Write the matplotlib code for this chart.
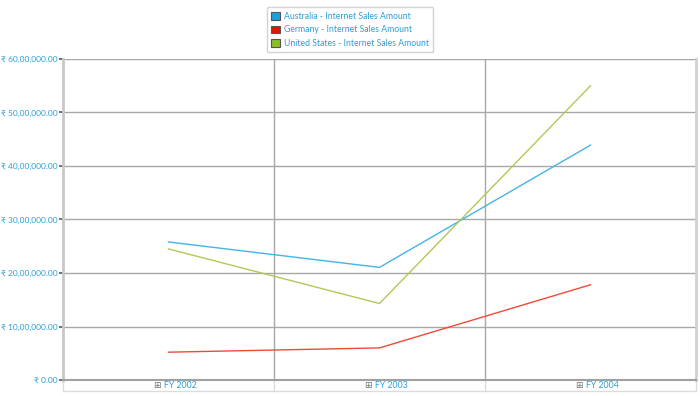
import matplotlib
matplotlib.use("Agg")
import matplotlib.pyplot as plt
from matplotlib.patches import Patch
import matplotlib.transforms as mtransforms

plt.rcParams['font.family'] = ['Lato', 'DejaVu Sans']

# data (Internet Sales Amount, INR)
years = ["FY 2002", "FY 2003", "FY 2004"]
australia = [2580000, 2105000, 4390000]
germany = [520000, 600000, 1780000]
united_states = [2450000, 1430000, 5500000]
yticks = [0, 1000000, 2000000, 3000000, 4000000, 5000000, 6000000]

series_names = ["Australia - Internet Sales Amount",
                "Germany - Internet Sales Amount",
                "United States - Internet Sales Amount"]
line_colors = ["#45b4e6", "#ee4a3a", "#b2c85a"]
legend_colors = ["#1ba1e2", "#e51400", "#8cbf26"]
txt_blue = "#2a9fd8"


def indian(v):
    s = "%d" % int(v)
    if len(s) > 3:
        head, tail = s[:-3], s[-3:]
        parts = []
        while len(head) > 2:
            parts.insert(0, head[-2:])
            head = head[:-2]
        if head:
            parts.insert(0, head)
        s = ",".join(parts) + "," + tail
    return "\u20b9 " + s + ".00"


fig = plt.figure(figsize=(7, 3.96), dpi=100)
ax = fig.add_axes([63/700, 1 - 380/396, 633/700, 321/396])

x = list(range(len(years)))
for vals, c in zip([australia, germany, united_states], line_colors):
    ax.plot(x, vals, color=c, lw=1.0, zorder=3)

ax.set_xlim(-0.5, len(years) - 0.5)
ax.set_ylim(0, 6000000)
ax.set_yticks(yticks)
ax.set_yticklabels([indian(v) for v in yticks], color=txt_blue, fontsize=6)
ax.tick_params(axis='y', length=3, width=1.2, color="#555555", pad=1)
ax.set_xticks([])

for v in yticks[1:]:
    ax.axhline(v, color="#a8a8a8", lw=1.0, zorder=1)
for b in [0.5, 1.5]:
    ax.axvline(b, color="#a8a8a8", lw=1.0, zorder=1)

ax.spines["top"].set_visible(False)
ax.spines["left"].set_color("#c8c8c8")
ax.spines["left"].set_linewidth(2)
ax.spines["right"].set_color("#d0d0d0")
ax.spines["right"].set_linewidth(2)
ax.spines["bottom"].set_color("#a0a0a0")
ax.spines["bottom"].set_linewidth(1.5)

# category label row below the axis
trans = mtransforms.blended_transform_factory(ax.transData, fig.transFigure)
row_bot = 1 - 391/396
for b in [-0.5, 0.5, 1.5, 2.5]:
    ax.plot([b, b], [1 - 380/396, row_bot], transform=trans, color="#dcdcdc",
            lw=1, clip_on=False)
ax.plot([-0.5, 2.5], [row_bot, row_bot], transform=trans, color="#dcdcdc",
        lw=1, clip_on=False)
for i, yr in enumerate(years):
    ax.text(i - 0.035, 1 - 386/396, "\u229e", transform=trans, ha="right",
            va="center", fontsize=6.5, color="#707070", family=['DejaVu Sans'])
    ax.text(i - 0.02, 1 - 386/396, yr, transform=trans, ha="left",
            va="center", fontsize=6.3, color=txt_blue)

handles = [Patch(facecolor=c, edgecolor="#555555", lw=0.8) for c in legend_colors]
leg = fig.legend(handles, series_names, loc="upper center",
                 bbox_to_anchor=(0.5, 1 - 3/396), fontsize=6.2, frameon=True,
                 fancybox=True, edgecolor="#c8c8c8", handlelength=1.0,
                 handleheight=1.0, handletextpad=0.4, labelspacing=0.5,
                 borderpad=0.55)
for t in leg.get_texts():
    t.set_color(txt_blue)

plt.savefig("out.png", dpi=100)
